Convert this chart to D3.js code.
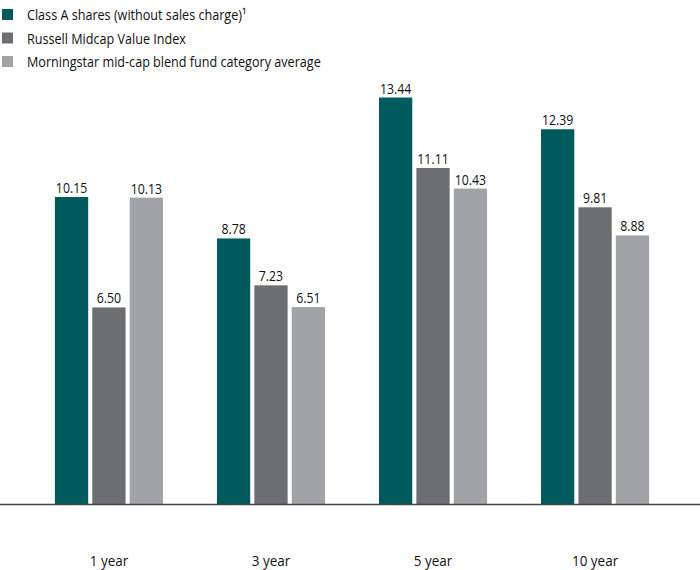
<!DOCTYPE html>
<html><head><meta charset="utf-8">
<script src="https://cdn.jsdelivr.net/npm/d3@7"></script>
<style>body{margin:0;background:#fff}svg{display:block}text{font-family:"Open Sans","Noto Sans",sans-serif}</style>
</head><body><svg id="c" width="700" height="570"></svg>
<script>
const categories = ["1 year","3 year","5 year","10 year"];
const seriesNames = ["Class A shares (without sales charge)\u00B9","Russell Midcap Value Index","Morningstar mid-cap blend fund category average"];
const classA = [10.15, 8.78, 13.44, 12.39];
const russell = [6.50, 7.23, 11.11, 9.81];
const morningstar = [10.13, 6.51, 10.43, 8.88];
const colors = ["#005a5e","#6d6e71","#a2a3a6"];
const series = [classA, russell, morningstar];

const svg = d3.select("#c");
const baseY = 504;
const x0 = d3.scaleBand().domain(categories).range([28, 676]).paddingInner(0.333).paddingOuter(0.166);
const x1 = d3.scaleBand().domain([0,1,2]).range([0, x0.bandwidth()]).paddingInner(0.11);
const y = d3.scaleLinear().domain([0, 13.44]).range([baseY, 97.5]);

function label(parent, x, yy, txt, size, sx, anchor) {
  return parent.append("g").attr("transform", `translate(${x},${yy}) scale(${sx},1)`)
    .append("text").attr("x", 0).attr("y", 0).attr("text-anchor", anchor)
    .attr("font-size", size).attr("fill", "#111").text(txt);
}

const g = svg.append("g");
categories.forEach((c, i) => {
  series.forEach((s, j) => {
    const xx = x0(c) + x1(j);
    g.append("rect").attr("x", xx).attr("y", y(s[i])).attr("width", x1.bandwidth()).attr("height", baseY - y(s[i])).attr("fill", colors[j]);
    label(g, xx + x1.bandwidth()/2, y(s[i]) - 4, s[i].toFixed(2), 14, 0.88, "middle");
  });
  label(svg, x0(c) + x0.bandwidth()/2, 566, c, 15, 0.9, "middle");
});

svg.append("line").attr("x1", 0).attr("x2", 700).attr("y1", baseY + 0.5).attr("y2", baseY + 0.5).attr("stroke", "#444").attr("stroke-width", 1.5);

const leg = svg.append("g");
seriesNames.forEach((n, j) => {
  const cy = 14.5 + j * 23.5;
  leg.append("rect").attr("x", 2).attr("y", cy - 5.5).attr("width", 11).attr("height", 11).attr("fill", colors[j]);
  label(leg, 27, cy + 5.5, n, 14.5, 0.87, "start");
});
</script></body></html>
